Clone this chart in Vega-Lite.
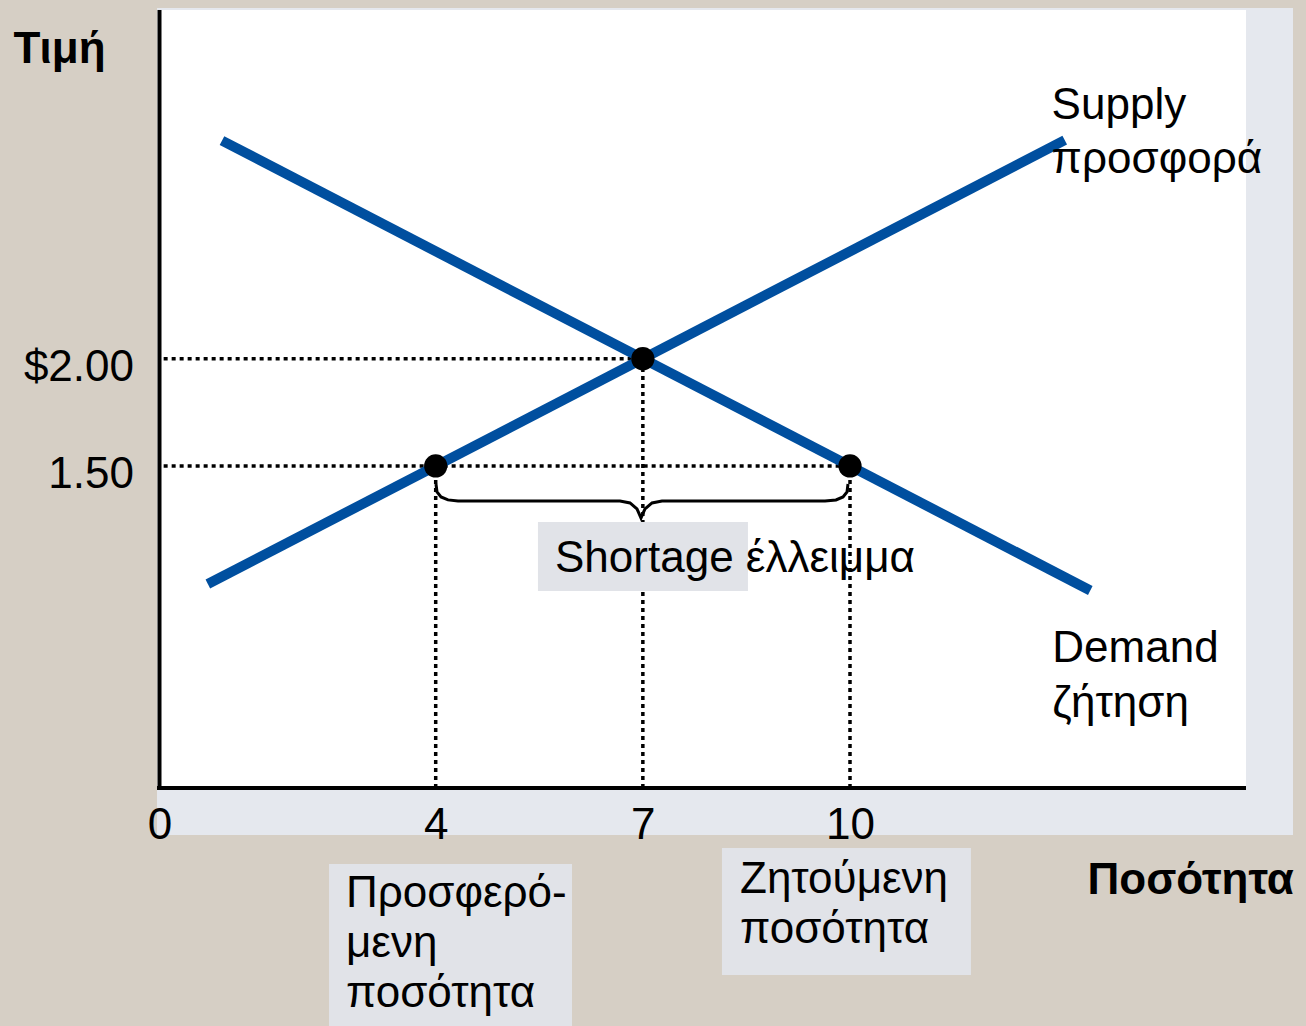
{
  "$schema": "https://vega.github.io/schema/vega-lite/v6.json",
  "width": 1306,
  "height": 1026,
  "padding": 0,
  "autosize": {"type": "none"},
  "background": "#d6cfc5",
  "config": {"view": {"stroke": null}, "font": "Liberation Sans"},
  "encoding": {
    "x": {
      "field": "q", "type": "quantitative",
      "scale": {"domain": [-2.31, 16.604], "nice": false, "zero": false},
      "axis": {
        "values": [0, 4, 7, 10], "domain": false, "ticks": false, "tickSize": 0, "grid": false,
        "offset": -238, "labelPadding": 50, "labelBaseline": "alphabetic",
        "labelFont": "Liberation Sans", "labelFontSize": 44, "labelColor": "black", "labelFlush": false, "labelOverlap": false,
        "title": "Ποσότητα", "titleX": 1087, "titleY": 105, "titleAlign": "left", "titleBaseline": "alphabetic", "titleAngle": 0,
        "titleFont": "Liberation Sans", "titleFontSize": 44, "titleFontWeight": "bold", "titleColor": "black", "zindex": 1
      }
    },
    "y": {
      "field": "p", "type": "quantitative",
      "scale": {"domain": [-1.109, 3.671], "nice": false, "zero": false},
      "axis": {
        "values": [1.5, 2], "labelExpr": "datum.value == 2 ? '$2.00' : '1.50'",
        "domain": false, "ticks": false, "tickSize": 0, "grid": false,
        "offset": -159.5, "labelPadding": 26, "labelBaseline": "alphabetic", "labelOffset": 22, "labelAlign": "right",
        "labelFont": "Liberation Sans", "labelFontSize": 44, "labelColor": "black", "labelFlush": false, "labelOverlap": false,
        "title": "Τιμή", "titleX": -146.5, "titleY": 62, "titleAlign": "left", "titleBaseline": "alphabetic", "titleAngle": 0,
        "titleFont": "Liberation Sans", "titleFontSize": 44, "titleFontWeight": "bold", "titleColor": "black", "zindex": 1
      }
    }
  },
  "layer": [
    {
      "data": {"values": [{"q": -0.036, "q2": 16.416, "p": 3.634, "p2": -0.219}]},
      "mark": {"type": "rect", "color": "#e5e8ee"},
      "encoding": {"x2": {"field": "q2"}, "y2": {"field": "p2"}}
    },
    {
      "data": {"values": [{"q": -0.03, "q2": 15.735, "p": 3.624, "p2": 0}]},
      "mark": {"type": "rect", "color": "#ffffff"},
      "encoding": {"x2": {"field": "q2"}, "y2": {"field": "p2"}}
    },
    {
      "data": {"values": [
        {"q": 0.06, "q2": 7, "p": 2, "p2": 2},
        {"q": 0.06, "q2": 10, "p": 1.5, "p2": 1.5},
        {"q": 4, "q2": 4, "p": 0, "p2": 1.5},
        {"q": 7, "q2": 7, "p": 0, "p2": 2},
        {"q": 10, "q2": 10, "p": 0, "p2": 1.5}
      ]},
      "mark": {"type": "rule", "color": "black", "strokeWidth": 3.5, "strokeDash": [4, 4]},
      "encoding": {"x2": {"field": "q2"}, "y2": {"field": "p2"}}
    },
    {
      "data": {"values": [
        {"q": 0, "q2": 0, "p": -0.01, "p2": 3.624},
        {"q": -0.036, "q2": 15.735, "p": 0, "p2": 0}
      ]},
      "mark": {"type": "rule", "color": "black", "strokeWidth": 4},
      "encoding": {"x2": {"field": "q2"}, "y2": {"field": "p2"}}
    },
    {
      "data": {"values": [
        {"q": 0.70, "p": 0.95, "curve": "Supply"},
        {"q": 13.11, "p": 3.018, "curve": "Supply"},
        {"q": 0.905, "p": 3.016, "curve": "Demand"},
        {"q": 13.48, "p": 0.92, "curve": "Demand"}
      ]},
      "mark": {"type": "line", "color": "#004f9f", "strokeWidth": 10, "strokeCap": "butt"},
      "encoding": {"detail": {"field": "curve"}}
    },
    {
      "data": {"values": [
        {"i": 1, "q": 4.004, "p": 1.416}, {"i": 2, "q": 4.019, "p": 1.379}, {"i": 3, "q": 4.077, "p": 1.356},
        {"i": 4, "q": 4.178, "p": 1.342}, {"i": 5, "q": 4.323, "p": 1.337}, {"i": 6, "q": 6.669, "p": 1.337},
        {"i": 7, "q": 6.814, "p": 1.328}, {"i": 8, "q": 6.915, "p": 1.300}, {"i": 9, "q": 6.973, "p": 1.258},
        {"i": 10, "q": 7.031, "p": 1.300}, {"i": 11, "q": 7.133, "p": 1.328}, {"i": 12, "q": 7.277, "p": 1.337},
        {"i": 13, "q": 9.638, "p": 1.337}, {"i": 14, "q": 9.797, "p": 1.342}, {"i": 15, "q": 9.899, "p": 1.356},
        {"i": 16, "q": 9.957, "p": 1.379}, {"i": 17, "q": 9.971, "p": 1.416}
      ]},
      "mark": {"type": "line", "color": "black", "strokeWidth": 3, "interpolate": "linear"},
      "encoding": {"order": {"field": "i", "type": "quantitative"}}
    },
    {
      "data": {"values": [{"q": 4, "p": 1.5}, {"q": 7, "p": 2}, {"q": 10, "p": 1.5}]},
      "mark": {"type": "circle", "color": "black", "opacity": 1, "size": 540}
    },
    {
      "data": {"values": [
        {"q": 5.481, "q2": 8.522, "p": 1.239, "p2": 0.918},
        {"q": 2.455, "q2": 5.974, "p": -0.354, "p2": -1.2},
        {"q": 8.146, "q2": 11.752, "p": -0.2795, "p2": -0.871}
      ]},
      "mark": {"type": "rect", "color": "#e1e3e8"},
      "encoding": {"x2": {"field": "q2"}, "y2": {"field": "p2"}}
    },
    {
      "data": {"values": [
        {"q": 12.92, "p": 3.116, "label": "Supply"},
        {"q": 12.92, "p": 2.865, "label": "προσφορά"},
        {"q": 12.93, "p": 0.587, "label": "Demand"},
        {"q": 12.93, "p": 0.331, "label": "ζήτηση"},
        {"q": 5.728, "p": 1.006, "label": "Shortage έλλειμμα"},
        {"q": 2.701, "p": -0.554, "label": "Προσφερό-"},
        {"q": 2.701, "p": -0.787, "label": "μενη"},
        {"q": 2.701, "p": -1.020, "label": "ποσότητα"},
        {"q": 8.407, "p": -0.489, "label": "Ζητούμενη"},
        {"q": 8.407, "p": -0.722, "label": "ποσότητα"}
      ]},
      "mark": {"type": "text", "align": "left", "baseline": "alphabetic", "font": "Liberation Sans", "fontSize": 44, "color": "black"},
      "encoding": {"text": {"field": "label"}}
    }
  ]
}
